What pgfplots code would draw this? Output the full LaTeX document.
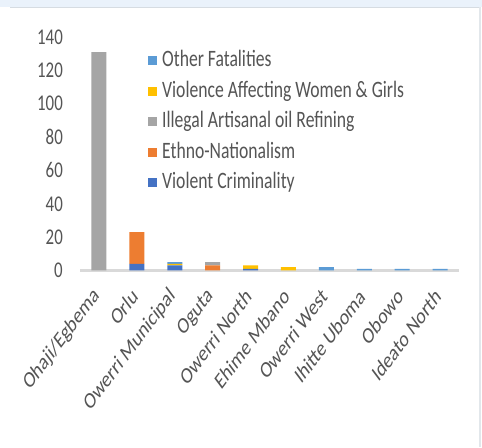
\documentclass[border=0pt]{standalone}
\usepackage{pgfplots}
\usepackage{pgfplotstable}
\pgfplotsset{compat=1.18}
\usepackage{fontspec}
\setmainfont[FakeStretch=0.75]{Carlito}
\newfontfamily\labelfont{Carlito}

\definecolor{vc}{HTML}{4472C4}
\definecolor{en}{HTML}{ED7D31}
\definecolor{iaor}{HTML}{A5A5A5}
\definecolor{vawg}{HTML}{FFC000}
\definecolor{oth}{HTML}{5B9BD5}
\definecolor{txt}{HTML}{555555}
\definecolor{axisgray}{HTML}{D9D9D9}
\definecolor{stripblue}{HTML}{EAF2FB}
\definecolor{framegray}{HTML}{D6DCE2}

% Fatalities by LGA and category
\pgfplotstableread{
idx VC EN IAOR VAWG OF
0   0  0  131  0    0
1   4  19 0    0    0
2   3  0  0    1    1
3   0  3  2    0    0
4   1  0  0    2    0
5   0  0  0    2    0
6   0  0  0    0    2
7   0  0  0    0    1
8   0  0  0    0    1
9   0  0  0    0    1
}\datatable

\pgfplotsset{
  sqbar/.style={fill=#1, draw=none,
    legend image code/.code={\fill[#1] (0bp,-4.5bp) rectangle (9bp,4.5bp);}},
}

\begin{document}
\begin{tikzpicture}
% page frame
\fill[white] (0,0) rectangle (482bp,447bp);
\fill[stripblue] (0,440bp) rectangle (482bp,447bp);
\draw[framegray, line width=0.8bp] (10bp,440bp) -- (479bp,440bp);
\draw[framegray!70, line width=2bp] (480bp,0) -- (480bp,440bp);

\begin{axis}[
  at={(80bp,176.5bp)}, anchor=south west,
  scale only axis, width=379bp, height=233.5bp,
  ybar stacked, bar width=15bp,
  xmin=-0.5, xmax=9.5, ymin=0, ymax=140,
  ytick={0,20,...,140},
  xtick={0,...,9},
  xticklabels={Ohaji/Egbema, Orlu, Owerri Municipal, Oguta, Owerri North,
               Ehime Mbano, Owerri West, Ihitte Uboma, Obowo, Ideato North},
  axis lines*=left,
  y axis line style={draw=none},
  x axis line style={draw=axisgray, line width=2.2bp},
  tick style={draw=none},
  /pgf/number format/assume math mode=true,
  yticklabel style={font=\fontsize{22.5bp}{26bp}\selectfont, text=txt,
                    inner sep=0pt, anchor=east, xshift=-17bp},
  xticklabel style={font=\labelfont\fontsize{23bp}{27bp}\selectfont, text=txt,
                    inner sep=0pt, anchor=east, xshift=-2bp, yshift=-22bp,
                    cm={0.5303,0.7071,-0.5303,0.7071,(0,0)}},
  reverse legend,
  legend style={at={(0.1794,0.937)}, anchor=north west, draw=none, fill=none,
                inner sep=0pt, row sep=12.5bp, column sep=5bp,
                font=\fontsize{23.5bp}{27bp}\selectfont,
                nodes={inner sep=0pt, text height=15bp, text depth=3bp,
                       anchor=west, text=txt}},
]
\addplot[sqbar=vc]   table[x=idx, y=VC]   \datatable;
\addlegendentry{Violent Criminality}
\addplot[sqbar=en]   table[x=idx, y=EN]   \datatable;
\addlegendentry{Ethno-Nationalism}
\addplot[sqbar=iaor] table[x=idx, y=IAOR] \datatable;
\addlegendentry{Illegal Artisanal oil Refining}
\addplot[sqbar=vawg] table[x=idx, y=VAWG] \datatable;
\addlegendentry{Violence Affecting Women \& Girls}
\addplot[sqbar=oth]  table[x=idx, y=OF]   \datatable;
\addlegendentry{Other Fatalities}
\end{axis}
\end{tikzpicture}
\end{document}
